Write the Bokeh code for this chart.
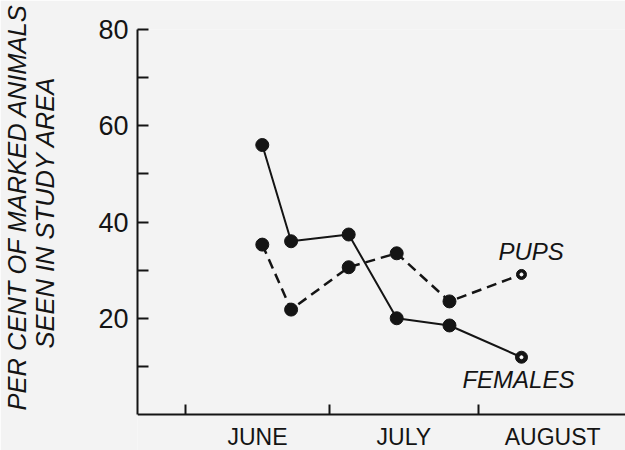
from bokeh.plotting import figure
from bokeh.models import Range1d, FixedTicker, Title
from bokeh.core.properties import value
from bokeh.embed import file_html
from bokeh.resources import INLINE

# ---- data (days counted from 1 June) ----
pups_day = [16, 22, 34, 44, 55, 70]
pups_pct = [35.3, 21.8, 30.6, 33.5, 23.5, 29.1]
fem_day = [16, 22, 34, 44, 55, 70]
fem_pct = [56.0, 36.0, 37.4, 20.0, 18.5, 11.9]
month_names = ["JUNE", "JULY", "AUGUST"]
month_start = [0, 30, 61]
month_len = [30, 31, 31]
y_ticks = [20, 40, 60, 80]
y_minor = [10, 30, 50, 70]
y_title = ["PER CENT OF MARKED ANIMALS", "SEEN IN STUDY AREA"]

BG = "#f3f3f3"
INK = "#141414"
FONT = "Liberation Sans"

p = figure(width=625, height=450,
           x_range=Range1d(-10, 91.67), y_range=Range1d(-7.48, 80),
           output_backend="svg", toolbar_location=None,
           min_border_left=137, min_border_right=0,
           min_border_top=29, min_border_bottom=0,
           background_fill_color=BG, border_fill_color=BG,
           outline_line_color=None)
p.grid.visible = False

# x axis (drawn at y = 0)
mid = [s + l / 2 for s, l in zip(month_start, month_len)]
xa = p.xaxis[0]
xa.fixed_location = 0
xa.ticker = FixedTicker(ticks=mid, minor_ticks=month_start)
xa.major_label_overrides = {m: n for m, n in zip(mid, month_names)}
xa.major_tick_in = 0
xa.major_tick_out = 0
xa.minor_tick_in = 10
xa.minor_tick_out = 0
xa.axis_line_color = INK
xa.axis_line_width = 2
xa.minor_tick_line_color = INK
xa.minor_tick_line_width = 2
xa.major_label_text_font = FONT
xa.major_label_text_font_size = "23px"
xa.major_label_text_color = INK
xa.major_label_standoff = 9

# y axis
ya = p.yaxis[0]
ya.bounds = (0, 80)
ya.ticker = FixedTicker(ticks=y_ticks, minor_ticks=y_minor)
ya.major_tick_in = 11
ya.major_tick_out = 0
ya.minor_tick_in = 11
ya.minor_tick_out = 0
ya.axis_line_color = INK
ya.axis_line_width = 2
ya.major_tick_line_color = INK
ya.major_tick_line_width = 2
ya.minor_tick_line_color = INK
ya.minor_tick_line_width = 2
ya.major_label_text_font = FONT
ya.major_label_text_font_size = "27px"
ya.major_label_text_color = INK
ya.major_label_standoff = 9

# y axis title: two rotated lines left of the axis
# (panels stack outward from the axis: gap, inner line, outer line)
def side_title(txt, off, size, so):
    t = Title(text=txt, align="left", offset=off, standoff=0,
              text_font=FONT, text_font_size=size,
              text_font_style="italic", text_color=INK)
    try:
        t.standoff = so
    except Exception:
        t.standoff = max(so, 0)
    return t

p.add_layout(side_title(" ", 0, "1px", 34), "left")
p.add_layout(side_title(y_title[1], 102, "25.5px", 0), "left")
p.add_layout(side_title(y_title[0], 40, "25.5px", -4), "left")

# series
p.line(fem_day, fem_pct, line_color=INK, line_width=2)
p.line(pups_day, pups_pct, line_color=INK, line_width=2.5, line_dash="10 6")
p.scatter(fem_day[:-1], fem_pct[:-1], size=13, color=INK)
p.scatter(pups_day[:-1], pups_pct[:-1], size=13, color=INK)
p.scatter([fem_day[-1]], [fem_pct[-1]], size=12, color=INK)
p.scatter([pups_day[-1]], [pups_pct[-1]], size=10, color=INK)
p.scatter([fem_day[-1], pups_day[-1]], [fem_pct[-1], pups_pct[-1]], size=3, color="white")

p.text(x=[65.2], y=[33.9], text=["PUPS"], text_font=value(FONT),
       text_font_size="24px", text_font_style="italic", text_color=INK,
       text_baseline="middle", text_align="left")
p.text(x=[57.7], y=[7.3], text=["FEMALES"], text_font=value(FONT),
       text_font_size="24px", text_font_style="italic", text_color=INK,
       text_baseline="middle", text_align="left")

open("out.html", "w").write(file_html(p, INLINE))
